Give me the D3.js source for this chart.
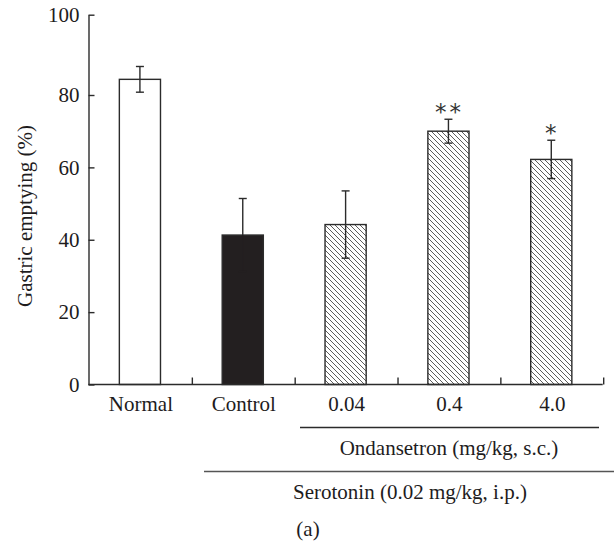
<!DOCTYPE html>
<html>
<head>
<meta charset="utf-8">
<script src="https://cdn.jsdelivr.net/npm/d3@7"></script>
<style>
  html, body { margin: 0; padding: 0; background: #fff; }
  svg { display: block; }
  text { font-family: "Liberation Serif", "Times New Roman", "DejaVu Serif", serif; fill: #1e1c1d; }
</style>
</head>
<body>
<svg id="chart" width="614" height="541"></svg>
<script>
// ---- data ----
const categories = ["Normal", "Control", "0.04", "0.4", "4.0"];
const means = [83.9, 41.3, 44.2, 70.0, 62.2];
const errors = [3.2, 10.1, 9.3, 3.3, 5.3];
const groups = ["normal", "control", "ondansetron", "ondansetron", "ondansetron"];
const stars = ["", "", "", "**", "*"];
const yTicks = [0, 20, 40, 60, 80, 100];
const yLabel = "Gastric emptying (%)";
const ondLabel = "Ondansetron (mg/kg, s.c.)";
const serLabel = "Serotonin (0.02 mg/kg, i.p.)";
const panelLabel = "(a)";

// ---- layout ----
const svg = d3.select("#chart");
const ink = "#2b2b2b";
const fs = 21;
const axisX0 = 88.5, axisX1 = 602.7;

const y = d3.scaleLinear().domain([0, 80, 100]).range([384.5, 95, 14.7]);
const x = d3.scaleBand().domain(categories).range([axisX0, axisX1])
  .paddingInner(0.6).paddingOuter(0.3);
const step = x.step();

// hatch pattern
const defs = svg.append("defs");
const pat = defs.append("pattern").attr("id", "hatch")
  .attr("patternUnits", "userSpaceOnUse").attr("width", 5).attr("height", 5);
pat.append("rect").attr("width", 5).attr("height", 5).attr("fill", "#fff");
pat.append("path").attr("d", "M0,0L5,5M-1,4L1,6M4,-1L6,1")
  .attr("stroke", "#333").attr("stroke-width", 0.8);

const fillFor = g => g === "normal" ? "#fff" : g === "control" ? "#231f20" : "url(#hatch)";

// bars
const data = categories.map((c, i) => ({ c, m: means[i], e: errors[i], g: groups[i], s: stars[i] }));
svg.append("g").selectAll("rect").data(data).join("rect")
  .attr("x", d => x(d.c)).attr("width", x.bandwidth())
  .attr("y", d => y(d.m)).attr("height", d => y(0) - y(d.m))
  .attr("fill", d => fillFor(d.g))
  .attr("stroke", ink).attr("stroke-width", 1.4);

// error bars
const eb = svg.append("g").attr("stroke", ink).attr("stroke-width", 1.4).attr("fill", "none");
data.forEach(d => {
  const cx = x(d.c) + x.bandwidth() / 2;
  const yt = y(d.m + d.e), yb = y(d.m - d.e);
  const lowStroke = d.g === "control" ? "#231f20" : ink;
  eb.append("line").attr("x1", cx).attr("x2", cx).attr("y1", yt).attr("y2", y(d.m));
  eb.append("line").attr("x1", cx).attr("x2", cx).attr("y1", y(d.m)).attr("y2", yb).attr("stroke", lowStroke);
  eb.append("line").attr("x1", cx - 4).attr("x2", cx + 4).attr("y1", yt).attr("y2", yt);
  eb.append("line").attr("x1", cx - 4).attr("x2", cx + 4).attr("y1", yb).attr("y2", yb).attr("stroke", lowStroke);
});

// significance stars
svg.append("g").selectAll("text").data(data.filter(d => d.s)).join("text")
  .attr("x", d => x(d.c) + x.bandwidth() / 2 + 1)
  .attr("y", d => y(d.m + d.e) + 1)
  .attr("text-anchor", "middle")
  .attr("style", "font-family: 'DejaVu Sans'; font-size: 23px; letter-spacing: 3px; fill:#333;")
  .text(d => d.s);

// y axis
const yAxis = d3.axisLeft(y).tickValues(yTicks).tickSizeInner(-6).tickSizeOuter(0).tickPadding(9);
const gy = svg.append("g").attr("transform", `translate(${axisX0},0)`).call(yAxis);
gy.select(".domain").attr("stroke", ink).attr("stroke-width", 1.4);
gy.selectAll(".tick line").attr("stroke", ink).attr("stroke-width", 1.4);
gy.selectAll(".tick text").attr("style", `font-size:${fs}px`);

// x axis line with boundary ticks
const gx = svg.append("g");
gx.append("line").attr("x1", axisX0).attr("x2", axisX1).attr("y1", y(0)).attr("y2", y(0))
  .attr("stroke", ink).attr("stroke-width", 1.4);
gx.selectAll("line.b").data(categories).join("line").attr("class", "b")
  .attr("x1", c => x(c) + x.bandwidth() + step * 0.3 + 1)
  .attr("x2", c => x(c) + x.bandwidth() + step * 0.3 + 1)
  .attr("y1", y(0)).attr("y2", y(0) - 7)
  .attr("stroke", ink).attr("stroke-width", 1.4);

// category labels
svg.append("g").selectAll("text").data(categories).join("text")
  .attr("x", c => x(c) + x.bandwidth() / 2 + 1)
  .attr("y", 411)
  .attr("text-anchor", "middle").attr("style", `font-size:${fs}px`)
  .text(c => c);

// group lines and labels
svg.append("line").attr("x1", 300).attr("x2", 599).attr("y1", 427.5).attr("y2", 427.5)
  .attr("stroke", ink).attr("stroke-width", 1.4);
svg.append("text").attr("x", 449).attr("y", 455).attr("text-anchor", "middle")
  .attr("style", `font-size:${fs}px`).text(ondLabel);
svg.append("line").attr("x1", 204).attr("x2", 614).attr("y1", 471.5).attr("y2", 471.5)
  .attr("stroke", "#555").attr("stroke-width", 1.4);
svg.append("text").attr("x", 410).attr("y", 499).attr("text-anchor", "middle")
  .attr("style", `font-size:${fs}px`).text(serLabel);
svg.append("text").attr("x", 308).attr("y", 536).attr("text-anchor", "middle")
  .attr("style", `font-size:${fs}px`).text(panelLabel);

// y label
svg.append("text").attr("transform", "translate(32,216) rotate(-90)")
  .attr("text-anchor", "middle").attr("style", `font-size:${fs}px`).text(yLabel);
</script>
</body>
</html>
